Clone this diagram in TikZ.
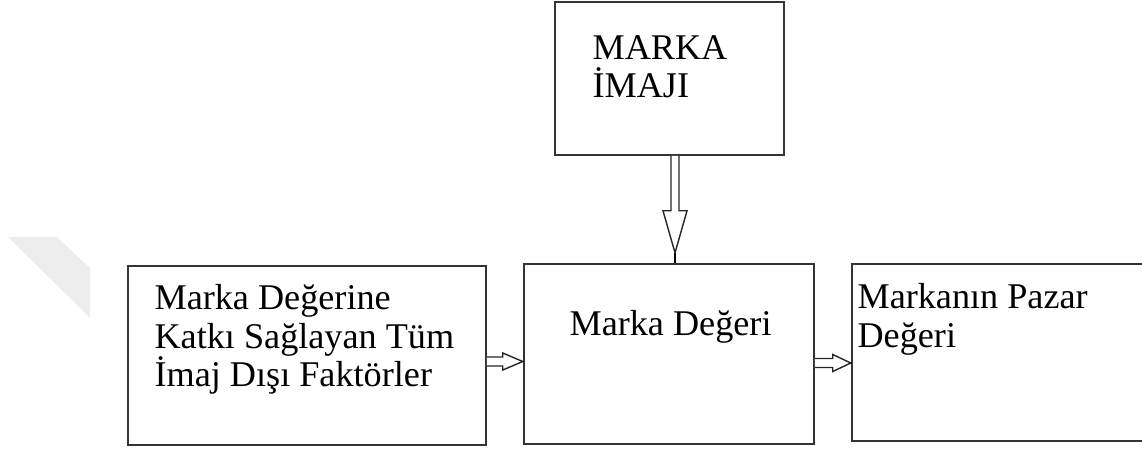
\documentclass[tikz,border=0pt]{standalone}
\usepackage{fontspec}
\setmainfont{Liberation Serif}
\usetikzlibrary{calc}

\begin{document}
\begin{tikzpicture}[x=0.02cm, y=-0.02cm,
    box/.style={draw=black!80, line width=0.9pt, inner sep=0pt},
    txt/.style={anchor=north west, align=left, inner sep=0pt, font=\fontsize{20.6}{21.8}\selectfont},
    hollow/.style={draw=black!85, line width=0.8pt, fill=white, line join=miter}]
    % Frame of the picture
    \useasboundingbox (0,0) rectangle (1142,451);
    \clip (0,0) rectangle (1142,451);

    % Faint mark at the left
    \fill[black!7] (8,237) -- (57,237) -- (90,268) -- (90,318) -- cycle;

    % Draw the four boxes
    \node[box, minimum width=4.58cm, minimum height=3.06cm] (imaj) at (669.5,78.5) {};
    \node[box, minimum width=7.16cm, minimum height=3.58cm] (faktor) at (307,355.5) {};
    \node[box, minimum width=5.8cm, minimum height=3.6cm] (deger) at (669,354) {};
    \node[box, minimum width=6.16cm, minimum height=3.54cm] (pazar) at (1006,352.5) {};

    % Texts in the boxes
    \node[txt] (imajtxt) at ($(imaj.north west)+(38,34)$) {MARKA\\İMAJI};
    \node[txt] (faktortxt) at ($(faktor.north west)+(27,19)$) {Marka Değerine\\Katkı Sağlayan Tüm\\İmaj Dışı Faktörler};
    \node[txt] (degertxt) at ($(deger.north west)+(46,47)$) {Marka Değeri};
    \node[txt] (pazartxt) at ($(pazar.north west)+(6,20)$) {Markanın Pazar\\Değeri};

    % Hollow arrow from the image box down
    \draw[hollow] ($(imaj.south)+(1.5,0)$) -- ++(0,55) -- ++(-8,0) -- ++(12,42) coordinate (tipa)
        -- ++(12,-42) -- ++(-8,0) -- ++(0,-55);
    \draw[line width=1.2pt] (tipa) -- (tipa |- deger.north);

    % Hollow arrow from the factors box
    \draw[hollow] ($(faktor.east)+(0,1.5)$) -- ++(16,0) -- ++(0,-4) -- ++(20,8.5) coordinate (tipb)
        -- ++(-20,8.5) -- ++(0,-4) -- ++(-16,0);
    \draw[line width=1pt] (tipb) -- (tipb -| deger.west);

    % Hollow arrow to the market value box
    \draw[hollow] ($(deger.east)+(0,4.5)$) -- ++(18,0) -- ++(0,-4) -- ++(18,8.5) coordinate (tipc)
        -- ++(-18,8.5) -- ++(0,-4) -- ++(-18,0);
    \draw[line width=1.2pt] (tipc) -- (tipc -| pazar.west);
\end{tikzpicture}
\end{document}
